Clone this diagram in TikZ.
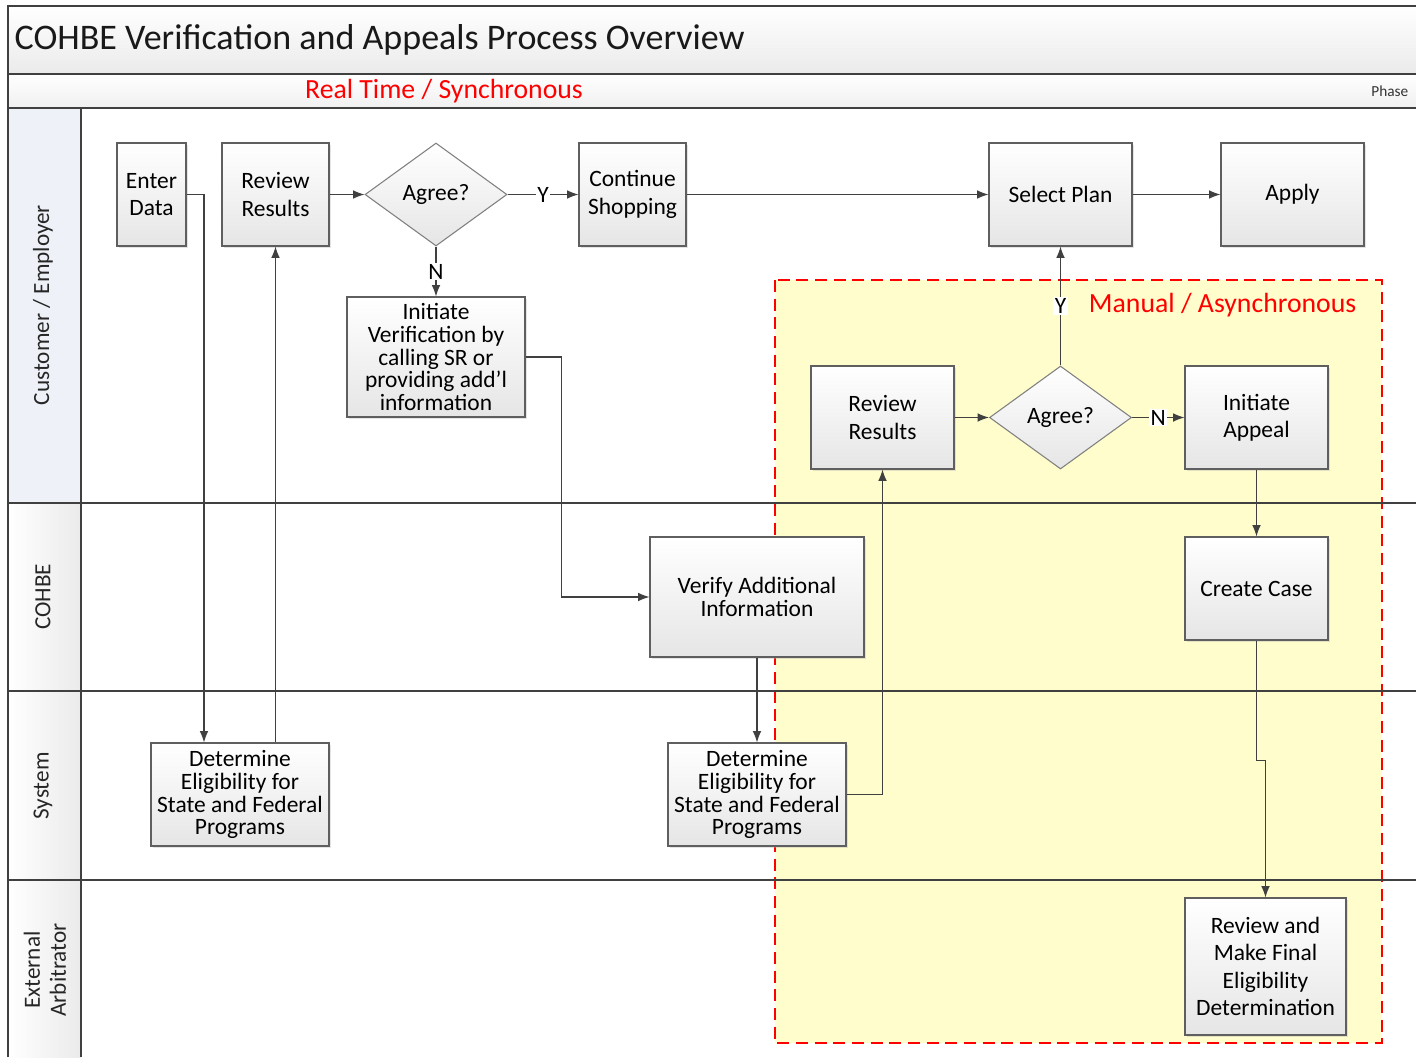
\documentclass[tikz,border=0pt]{standalone}
\usepackage{fontspec}
\setmainfont{Carlito}
\usetikzlibrary{positioning,calc,shapes.geometric,arrows.meta,shadows}

\definecolor{linegray}{HTML}{404040}
\definecolor{boxgray}{HTML}{5F5F5F}
\definecolor{asyncyellow}{HTML}{FFFDCB}
\definecolor{lanehead}{HTML}{EEF2F8}

\begin{document}
\begin{tikzpicture}[
  x=0.75pt, y=-0.75pt,
  >={Latex[length=8.5pt, width=6.5pt]},
  every node/.style={align=center},
  box/.style={draw=boxgray, line width=0.8pt, top color=white, bottom color=black!10,
    font=\fontsize{17.6}{20.5}\selectfont, inner sep=2pt, minimum height=77.25pt,
    drop shadow={shadow xshift=1.5pt, shadow yshift=-1.5pt, fill=black!30, opacity=0.35}},
  tight/.style={font=\fontsize{17.6}{17.2}\selectfont},
  decision/.style={diamond, draw=black!50, line width=0.8pt, top color=white, bottom color=black!10,
    font=\fontsize{17.6}{20.5}\selectfont, inner sep=0pt, minimum width=106.5pt, minimum height=77.25pt},
  yn/.style={fill=white, inner sep=1pt, font=\fontsize{17.6}{17}\selectfont},
  flow/.style={->, draw=linegray, line width=0.85pt},
  lane/.style={draw=linegray, line width=0.8pt},
  lanelabel/.style={rotate=90, font=\fontsize{17.4}{19.5}\selectfont, text=black!85}
]
\useasboundingbox (0,0) rectangle (1416,1057);

% --- Header bands ---
\fill[top color=white, bottom color=black!8] (8,6) rectangle (1416,74);
\fill[top color=white, bottom color=black!6] (8,74) rectangle (1416,108);
\node[anchor=west, font=\fontsize{27}{30}\selectfont, text=black!90] (title) at (10,40)
  {COHBE Verification and Appeals Process Overview};
\node[font=\fontsize{20.8}{24}\selectfont, text=red] (realtime) at (444,91) {Real Time / Synchronous};
\node[anchor=east, font=\fontsize{11.5}{13}\selectfont, text=black!80] (phase) at (1413,91) {Phase};

% --- Lane headers ---
\fill[lanehead] (8,108) rectangle (81,503);
\fill[left color=white, right color=black!8] (8,503) rectangle (81,1057);

% --- Manual / asynchronous region ---
\fill[asyncyellow] (775,280) rectangle (1382,1043);
\draw[red, line width=1.6pt, dash pattern=on 9pt off 5pt] (775,280) rectangle (1382,1043);
\node[anchor=east, font=\fontsize{20.8}{24}\selectfont, text=red] (manual) at (1361,305) {Manual / Asynchronous};

% --- Frame and lane lines ---
\draw[lane] (8,1057) -- (8,6) -- (1416,6);
\draw[lane] (8,74) -- (1416,74);
\draw[lane] (8,108) -- (1416,108);
\draw[lane] (81,108) -- (81,1057);
\draw[lane] (8,503) -- (1416,503);
\draw[lane] (8,691) -- (1416,691);
\draw[lane] (8,880) -- (1416,880);

\node[lanelabel] (lcust) at (43,305) {Customer / Employer};
\node[lanelabel] (lcohbe) at (43,597) {COHBE};
\node[lanelabel] (lsys) at (43,786) {System};
\node[lanelabel] (larb) at (45,970) {External\\Arbitrator};

% --- Customer / Employer lane ---
\node[box, minimum width=51.75pt] (enter) at (151.5,194.5) {Enter\\Data};
\node[box, minimum width=80.25pt] (review) at (275.5,194.5) {Review\\Results};
\node[decision] (agree) at (436,194.5) {Agree?};
\node[box, minimum width=80.25pt] (shop) at (632.5,194.5) {Continue\\Shopping};
\node[box, minimum width=107.25pt] (plan) at (1060.5,194.5) {Select Plan};
\node[box, minimum width=107.25pt] (apply) at (1292.5,194.5) {Apply};
\node[box, tight, minimum width=133.5pt, minimum height=90pt] (initver) at (436,357)
  {Initiate\\Verification by\\calling SR or\\providing add'l\\information};
\node[box, minimum width=107.25pt] (review2) at (882.5,417.5) {Review\\Results};
\node[decision] (agree2) at (1060.5,417.5) {Agree?};
\node[box, minimum width=107.25pt] (appeal) at (1256.5,417.5) {Initiate\\Appeal};

% --- COHBE lane ---
\node[box, tight, minimum width=160.5pt, minimum height=90pt] (verify) at (757,597)
  {Verify Additional\\Information};
\node[box, minimum width=107.25pt] (case) at (1256.5,588.5) {Create Case};

% --- System lane ---
\node[box, tight, minimum width=133.5pt] (elig) at (240,794.5)
  {Determine\\Eligibility for\\State and Federal\\Programs};
\node[box, tight, minimum width=133.5pt] (elig2) at (757,794.5)
  {Determine\\Eligibility for\\State and Federal\\Programs};

% --- External Arbitrator lane ---
\node[box, minimum width=120.75pt, minimum height=102.75pt] (final) at (1265.5,966.5)
  {Review and\\Make Final\\Eligibility\\Determination};

% --- Connectors ---
\draw[flow] (enter.east) -| ([xshift=-27pt]elig.north);
\draw[flow] (elig.north -| review.south) -- (review.south);
\draw[flow] (review) -- (agree);
\draw[flow] (agree) -- node[yn] {Y} (shop);
\draw[flow] (agree) -- node[yn] {N} (initver);
\draw[flow] (shop) -- (plan);
\draw[flow] (plan) -- (apply);
\draw[flow] (initver.east) -- ++(27pt,0) |- (verify.west);
\draw[flow] (verify.south) -- (elig2.north);
\draw[flow] (elig2.east) -| (review2.south);
\draw[flow] (review2) -- (agree2);
\draw[flow] (agree2) -- node[yn] {Y} (plan);
\draw[flow] (agree2) -- node[yn] {N} (appeal);
\draw[flow] (appeal) -- (case);
\draw[flow] (case.south) -- ++(0,-90pt) -| (final.north);

\end{tikzpicture}
\end{document}
